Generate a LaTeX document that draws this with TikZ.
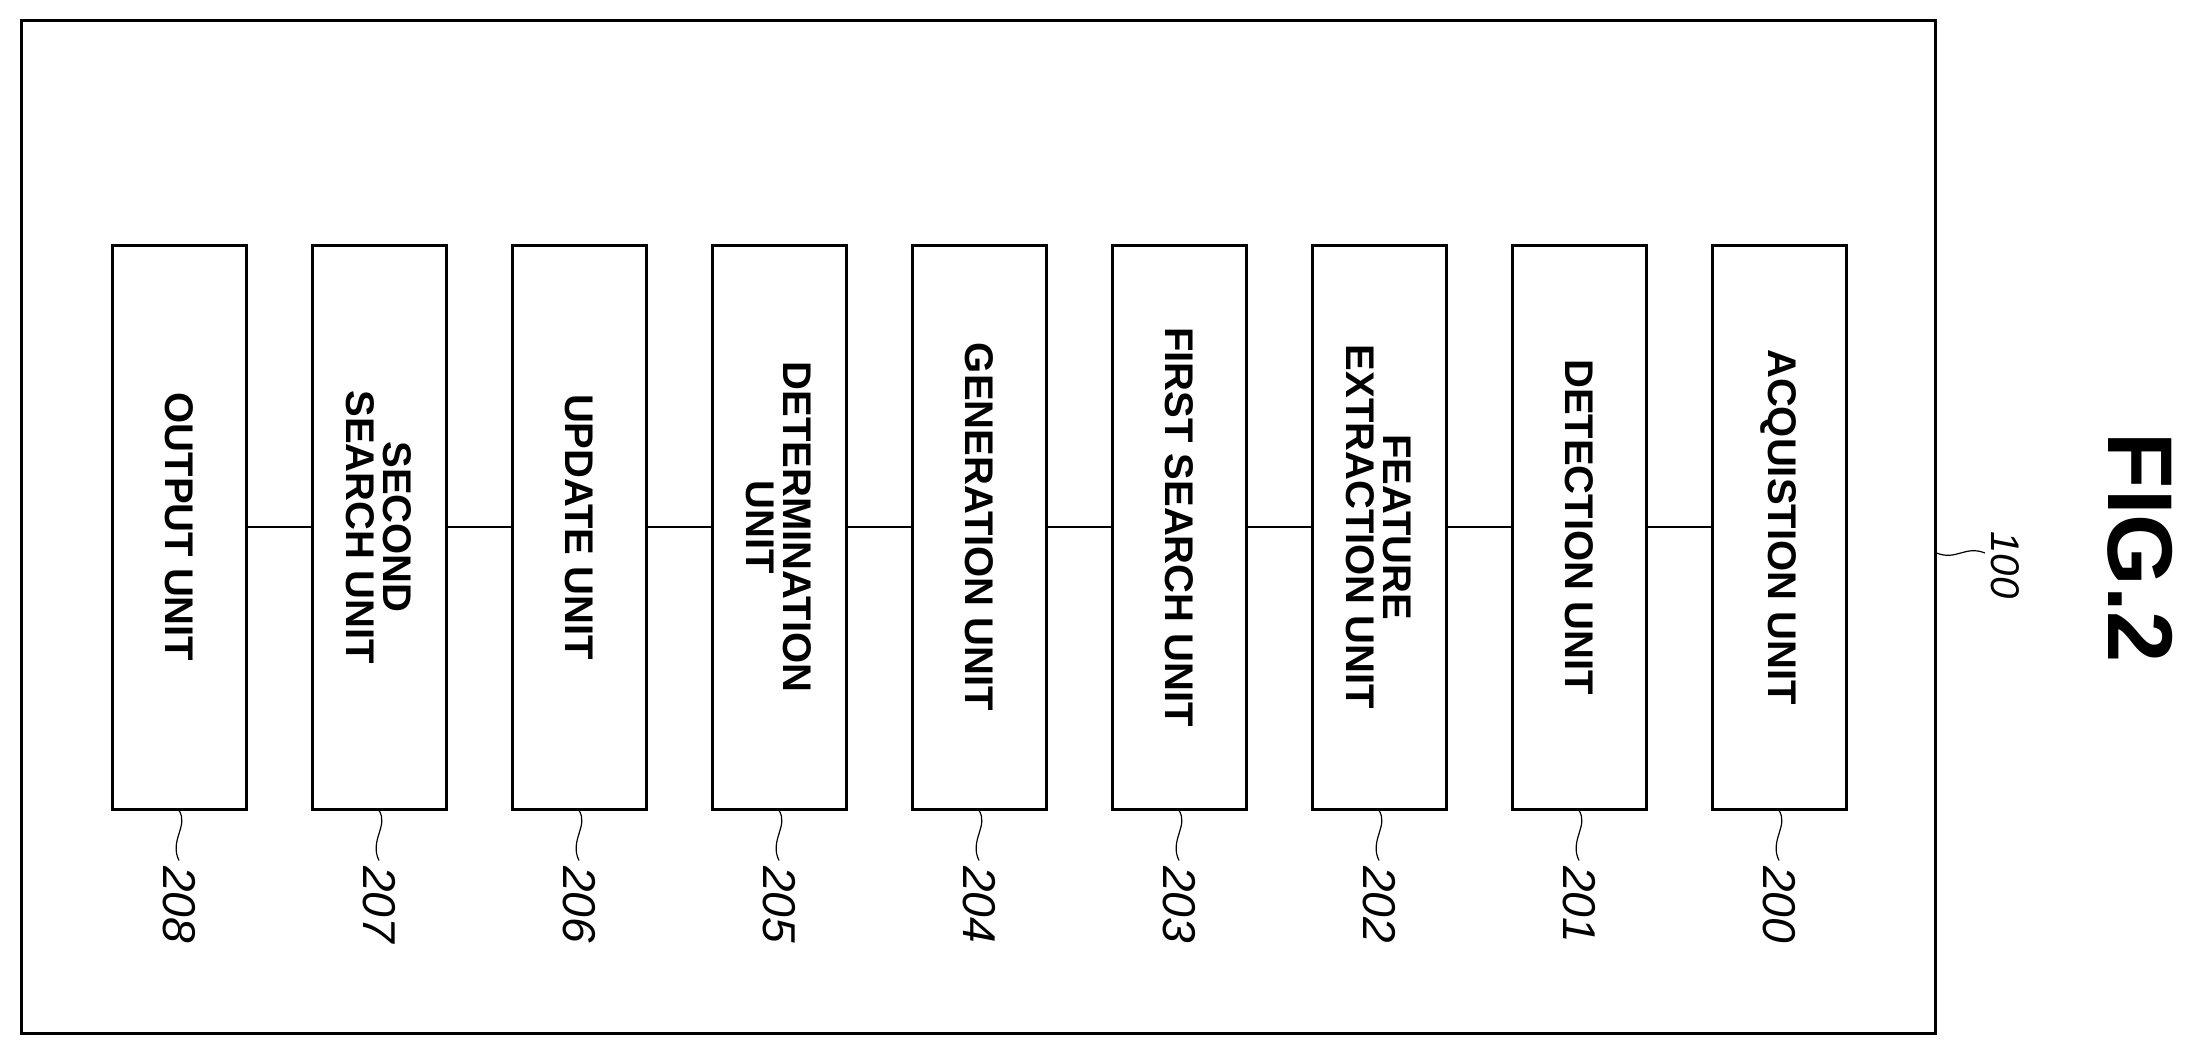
\documentclass[tikz,border=0pt]{standalone}
\usepackage{fontspec}
\setmainfont{Liberation Sans}
\usetikzlibrary{calc}
\begin{document}
\begin{tikzpicture}[x=1pt,y=-1pt,
  unit/.style={draw,line width=3pt,minimum width=134pt,minimum height=564pt,inner sep=0pt},
  utxt/.style={rotate=-90,font=\fontsize{40}{37}\selectfont\bfseries,align=center},
  num/.style={rotate=-90,font=\fontsize{46}{50}\selectfont\itshape,anchor=west},
  conn/.style={line width=1.5pt},
  lead/.style={line width=1.2pt}]
\useasboundingbox (0,0) rectangle (2196,1054);
\node[draw,line width=3pt,minimum width=1914pt,minimum height=1012pt,inner sep=0pt] (frame) at (978,527) {};
\foreach \i/\t/\n in {0/OUTPUT UNIT/208,1/SECOND\\SEARCH UNIT/207,2/UPDATE UNIT/206,3/DETERMINATION\\UNIT/205,4/GENERATION UNIT/204,5/FIRST SEARCH UNIT/203,6/FEATURE\\EXTRACTION UNIT/202,7/DETECTION UNIT/201,8/ACQUISTION UNIT/200}{
  \node[unit] (u\i) at ({179+200*\i},527) {};
  \node[utxt] (t\i) at (u\i.center) {\t};
  \coordinate (c\i) at ($(u\i.south)+(0,50)$);
  \draw[lead] (u\i.south) .. controls ++(10,15) and ++(-10,-20) .. (c\i);
  \node[num] (n\i) at ($(c\i)+(0,2)$) {\n};
}
\foreach \i [evaluate=\i as \j using int(\i+1)] in {0,...,7}{
  \draw[conn] (u\i.east) -- (u\j.west);
}
\coordinate (l100) at (1985,553);
\draw[lead] (frame.east |- l100) .. controls ++(20,8) and ++(-20,-8) .. (l100);
\node[rotate=-90,font=\fontsize{40}{44}\selectfont\itshape,anchor=south] (n100) at (1988,565) {100};
\node[rotate=-90,font=\fontsize{92}{100}\selectfont\bfseries] (fig) at (2140,548) {FIG.2};
\end{tikzpicture}
\end{document}
